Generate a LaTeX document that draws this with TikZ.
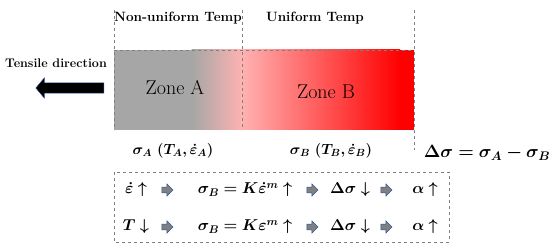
\RequirePackage{fix-cm}
\documentclass[tikz,border=0pt]{standalone}
\definecolor{zonegray}{RGB}{166, 166, 166}
\definecolor{zonepink}{RGB}{255, 178, 178}
\definecolor{zonered}{RGB}{255, 0, 0}
\definecolor{arrowblue}{RGB}{46, 84, 150}
\usepackage{tikz}
\usetikzlibrary{shapes, shapes.arrows, arrows.meta, positioning, calc}
\usepackage{amsmath, amssymb, bm}

\tikzset{
  guide/.style={draw=gray, dashed, line width=0.5pt},
  headtxt/.style={font=\fontsize{13.5}{15}\selectfont\bfseries, inner sep=1pt},
  zonetxt/.style={font=\fontsize{20}{22}\selectfont},
  eqtxt/.style={font=\fontsize{14.8}{17}\selectfont, inner sep=1pt},
  rowtxt/.style={font=\fontsize{15.8}{18}\selectfont, inner sep=1pt},
  steparrow/.style={single arrow, draw=arrowblue, fill=gray, line width=0.6pt,
    minimum height=11pt, minimum width=12pt, single arrow head extend=3pt, inner sep=2.5pt}
}

\begin{document}
\begin{tikzpicture}[x=1pt, y=-1pt]
  \useasboundingbox (0,0) rectangle (550,248);

  % bar with the two zones
  \fill[zonegray] (114,50) rectangle (192,130);
  \shade[left color=zonegray, right color=zonepink] (191.5,50) rectangle (242,130);
  \shade[left color=zonepink, right color=zonered] (241.5,50) rectangle (400,130);
  \fill[zonered] (399.5,50) rectangle (414,130);
  \draw[guide] (114,50) -- (414,50);
  \draw[guide] (114,10) -- (114,130);
  \draw[guide] (242,10) -- (242,130);
  \draw[guide] (414,10) -- (414,150);

  \node[headtxt] (nonuni) at (178,18) {Non-uniform Temp};
  \node[headtxt] (uni) at (315,18) {Uniform Temp};
  \node[zonetxt] (zonea) at (175,88) {Zone A};
  \node[zonetxt] (zoneb) at (326,92) {Zone B};

  % tensile direction
  \node[headtxt, font=\fontsize{12.5}{15}\selectfont\bfseries] (tensile) at (56,63) {Tensile direction};
  \node[single arrow, shape border rotate=180, fill=black, draw=arrowblue, line width=0.4pt,
    minimum height=68pt, minimum width=20pt, single arrow head extend=5pt,
    single arrow tip angle=100, inner sep=5pt] (pull) at (72,88) {};

  % stresses
  \node[eqtxt] (siga) at (173,151) {$\bm{\sigma_A\ (T_A, \dot{\varepsilon}_A)}$};
  \node[eqtxt] (sigb) at (331,151) {$\bm{\sigma_B\ (T_B, \dot{\varepsilon}_B)}$};
  \node[eqtxt, font=\fontsize{17.8}{19}\selectfont] (dsig) at (487,153) {$\bm{\Delta\sigma = \sigma_A - \sigma_B}$};

  % trend box
  \draw[guide, line width=0.7pt] (114,172) rectangle (449,242);

  \node[rowtxt] (ra1) at (136,190) {$\bm{\dot{\varepsilon}\uparrow}$};
  \node[steparrow] (ar1) at (166,190) {};
  \node[rowtxt] (ra2) at (245,190) {$\bm{\sigma_B = K\dot{\varepsilon}^m\uparrow}$};
  \node[steparrow] (ar2) at (311,190) {};
  \node[rowtxt] (ra3) at (350,190) {$\bm{\Delta\sigma\downarrow}$};
  \node[steparrow] (ar3) at (385,190) {};
  \node[rowtxt] (ra4) at (425,190) {$\bm{\alpha\uparrow}$};

  \node[rowtxt] (rb1) at (136,227) {$\bm{T\downarrow}$};
  \node[steparrow] (br1) at (166,227) {};
  \node[rowtxt] (rb2) at (245,227) {$\bm{\sigma_B = K\varepsilon^m\uparrow}$};
  \node[steparrow] (br2) at (311,227) {};
  \node[rowtxt] (rb3) at (350,227) {$\bm{\Delta\sigma\downarrow}$};
  \node[steparrow] (br3) at (385,227) {};
  \node[rowtxt] (rb4) at (425,227) {$\bm{\alpha\uparrow}$};
\end{tikzpicture}
\end{document}
